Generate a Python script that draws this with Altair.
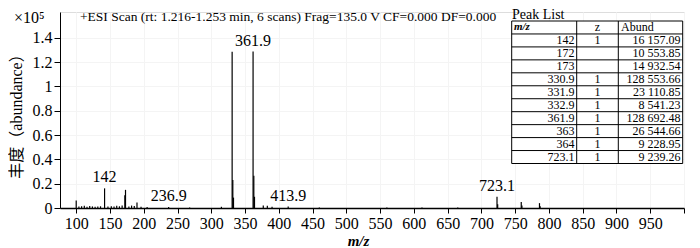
import altair as alt
import pandas as pd

FONT = "Liberation Serif, Noto Sans CJK SC"
NUMFONT = "Liberation Serif"

# spectrum sticks (m/z, abundance in units of 1e5)
spec_mz = [100, 104, 108, 112, 116, 120, 124, 128, 132, 136, 142, 147, 152, 156, 160,
           164, 168, 172, 173, 178, 182, 186, 190, 196, 205, 236.9, 268, 315, 330.9,
           331.9, 332.9, 361.9, 363, 364, 377, 383, 390, 413.9, 460, 560, 612, 665,
           723.1, 724.1, 759, 760, 786, 787]
spec_abund = [0.061, 0.012, 0.015, 0.018, 0.010, 0.016, 0.013, 0.011, 0.012, 0.014,
              0.1616, 0.012, 0.015, 0.012, 0.018, 0.014, 0.020, 0.1055, 0.1493, 0.012,
              0.020, 0.016, 0.045, 0.010, 0.008, 0.008, 0.005, 0.010, 1.2855, 0.2311,
              0.0854, 1.2869, 0.2654, 0.0923, 0.020, 0.018, 0.010, 0.012, 0.005, 0.004,
              0.004, 0.005, 0.0924, 0.030, 0.050, 0.020, 0.040, 0.015]

label_mz = [142, 236.9, 361.9, 413.9, 723.1]
label_text = ["142", "236.9", "361.9", "413.9", "723.1"]

x_ticks = list(range(100, 1001, 50))
y_ticks = [0, 0.2, 0.4, 0.6, 0.8, 1.0, 1.2, 1.4]

title_text = "+ESI Scan (rt: 1.216-1.253 min, 6 scans) Frag=135.0 V CF=0.000 DF=0.000"
exp_text = "×10⁵"
table_title = "Peak List"
table_header = ["m/z", "z", "Abund"]
peak_mz = ["142", "172", "173", "330.9", "331.9", "332.9", "361.9", "363", "364", "723.1"]
peak_z = ["1", "", "", "1", "1", "1", "1", "1", "1", "1"]
peak_abund = ["16 157.09", "10 553.85", "14 932.54", "128 553.66", "23 110.85",
              "8 541.23", "128 692.48", "26 544.66", "9 228.95", "9 239.26"]

spec_df = pd.DataFrame({"mz": spec_mz, "ab": spec_abund})
lab_height = [spec_abund[spec_mz.index(m)] for m in label_mz]
lab_df = pd.DataFrame({"mz": label_mz, "ab": lab_height, "t": label_text})

xscale = alt.Scale(domain=[76, 1000], nice=False, zero=False)
yscale = alt.Scale(domain=[0, 1.612], nice=False)

xaxis = alt.Axis(
    values=x_ticks, labelExpr="datum.value == 1000 ? '' : datum.label",
    title="m/z", titleFont=NUMFONT, titleFontStyle="italic",
    titleFontWeight="bold", titleFontSize=15, titleY=32, titleX=298,
    titleBaseline="middle", titleAlign="center", titleColor="black",
    grid=True, gridColor="#f4f4f4", domainColor="black", domainWidth=1.5,
    tickColor="black", tickSize=5, labelFont=NUMFONT, labelFontSize=16,
    labelColor="black", labelPadding=2, labelFlush=False, labelOverlap=False)

sticks = alt.Chart(spec_df).mark_rule(color="black", strokeWidth=1.2).encode(
    x=alt.X("mz:Q", scale=xscale, axis=xaxis),
    y=alt.Y("ab:Q", scale=yscale, axis=alt.Axis(
        values=y_ticks, format="~g", title="丰度（abundance）", titleFont=FONT,
        titleFontSize=16, titleFontWeight="normal", titleX=-43.5, titleY=100,
        titleAlign="center", titleBaseline="middle", titleAngle=270, titleColor="black",
        grid=True, gridColor="#f4f4f4", domainColor="black", domainWidth=1,
        tickColor="black", tickSize=6, labelFont=NUMFONT, labelFontSize=16,
        labelColor="black", labelPadding=2)),
    y2=alt.datum(0),
)

labels = alt.Chart(lab_df).mark_text(
    font=NUMFONT, fontSize=16, baseline="bottom", dy=-3, color="black"
).encode(
    x=alt.X("mz:Q", scale=xscale, axis=xaxis),
    y=alt.Y("ab:Q", scale=yscale, axis=None),
    text="t:N",
)

title = alt.Chart(pd.DataFrame({"t": [title_text]})).mark_text(
    font=FONT, fontSize=13.5, align="left", baseline="middle", color="black"
).encode(x=alt.value(20), y=alt.value(4.5), text="t:N")

expo = alt.Chart(pd.DataFrame({"t": [exp_text]})).mark_text(
    font=FONT, fontSize=16, align="left", baseline="middle", color="black"
).encode(x=alt.value(-46), y=alt.value(5.5), text="t:N")

# peak table
TX0, TX1, TX2, TX3 = 451.7, 516.7, 558.3, 622.7
TY0, TY1 = 9, 151.5
tscale = alt.Scale(domain=[0, 11], range=[TY0, TY1])

rows_df = pd.DataFrame({"rc": [i + 1.5 for i in range(len(peak_mz))],
                        "mz": peak_mz, "z": peak_z, "ab": peak_abund})
bounds_df = pd.DataFrame({"b": list(range(0, 12))})

bg = alt.Chart().mark_rect(color="white").encode(
    x=alt.value(TX0), x2=alt.value(TX3), y=alt.value(TY0), y2=alt.value(TY1))

hlines = alt.Chart(bounds_df).mark_rule(color="black", strokeWidth=1).encode(
    x=alt.value(TX0), x2=alt.value(TX3),
    y=alt.Y("b:Q", scale=tscale, axis=None))

vlines = [alt.Chart().mark_rule(color="black", strokeWidth=1).encode(
    x=alt.value(xv), y=alt.value(TY0), y2=alt.value(TY1)) for xv in (TX0, TX1, TX2, TX3)]

tt = alt.Chart(pd.DataFrame({"t": [table_title]})).mark_text(
    font=NUMFONT, fontSize=14, align="left", baseline="alphabetic", color="black"
).encode(x=alt.value(452), y=alt.value(7), text="t:N")

hdr_mz = alt.Chart(pd.DataFrame({"t": [table_header[0]], "rc": [0.5]})).mark_text(
    font=NUMFONT, fontSize=11, fontStyle="italic", fontWeight="bold", align="left",
    baseline="middle", color="black"
).encode(x=alt.value(454), y=alt.Y("rc:Q", scale=tscale, axis=None), text="t:N")
hdr_z = alt.Chart(pd.DataFrame({"t": [table_header[1]], "rc": [0.5]})).mark_text(
    font=NUMFONT, fontSize=12, align="center", baseline="middle", color="black"
).encode(x=alt.value(537.5), y=alt.Y("rc:Q", scale=tscale, axis=None), text="t:N")
hdr_ab = alt.Chart(pd.DataFrame({"t": [table_header[2]], "rc": [0.5]})).mark_text(
    font=NUMFONT, fontSize=12, align="left", baseline="middle", color="black"
).encode(x=alt.value(561), y=alt.Y("rc:Q", scale=tscale, axis=None), text="t:N")

col_mz = alt.Chart(rows_df).mark_text(
    font=NUMFONT, fontSize=12, align="right", baseline="middle", color="black"
).encode(x=alt.value(514.5), y=alt.Y("rc:Q", scale=tscale, axis=None), text="mz:N")
col_z = alt.Chart(rows_df).mark_text(
    font=NUMFONT, fontSize=12, align="center", baseline="middle", color="black"
).encode(x=alt.value(537.5), y=alt.Y("rc:Q", scale=tscale, axis=None), text="z:N")
col_ab = alt.Chart(rows_df).mark_text(
    font=NUMFONT, fontSize=12, align="right", baseline="middle", color="black"
).encode(x=alt.value(620.5), y=alt.Y("rc:Q", scale=tscale, axis=None), text="ab:N")

chart = alt.layer(
    sticks, labels, title, expo, bg, hlines, *vlines, tt,
    hdr_mz, hdr_z, hdr_ab, col_mz, col_z, col_ab
).resolve_scale(y="independent").properties(
    width=624, height=196,
    autosize=alt.AutoSizeParams(type="none"),
    padding={"left": 52, "top": 4, "right": 8, "bottom": 40},
).configure_view(stroke=None).configure(background="white")

chart.save("out.html", embed_options={"renderer": "svg", "actions": False})
